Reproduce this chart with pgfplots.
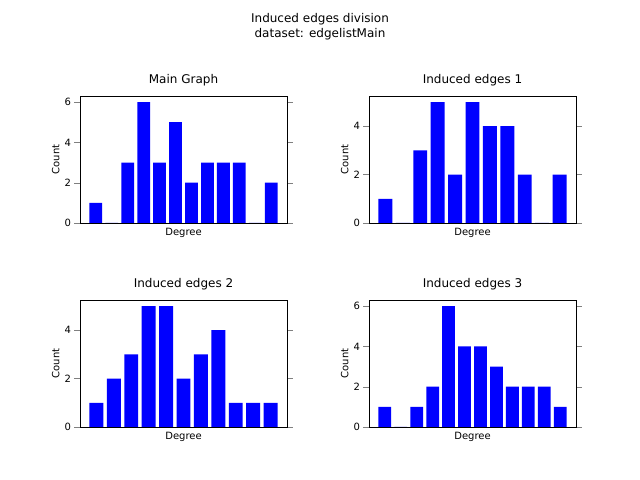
\documentclass[border=0pt]{standalone}
\usepackage{pgfplots}
\pgfplotsset{compat=1.18}
\usepackage{fontspec}
\setmainfont{DejaVu Sans}
\pgfplotsset{
  every axis/.append style={
    scale only axis, width=155.25bp, height=95.25bp,
    anchor=south west, ymin=0, xtick=\empty,
    ybar, bar width=0.8, bar shift=0pt,
    ylabel={Count}, xlabel={Degree},
    tick label style={font=\fontsize{7.5bp}{9bp}\selectfont},
    label style={font=\fontsize{7.5bp}{9bp}\selectfont},
    title style={font=\fontsize{9bp}{11bp}\selectfont, yshift=-2bp},
    /pgf/number format/assume math mode=true,
    xlabel style={yshift=4bp}, ylabel style={yshift=-3bp},
    tick align=outside, ytick={0,2,4,6}, yticklabel style={xshift=1bp},
  },
}
\begin{document}
\begin{tikzpicture}
\path (0,0) rectangle (480bp,360bp);
\node[font=\fontsize{9bp}{11bp}\selectfont, align=center] at (240bp,340bp) {Induced edges division\\ dataset: edgelistMain};
\begin{axis}[at={(60bp,192.75bp)}, title={Main Graph}, xmin=-0.99, xmax=11.99, ymax=6.3]
\addplot[fill=blue, draw=none] coordinates {(0,1)(1,0)(2,3)(3,6)(4,3)(5,5)(6,2)(7,3)(8,3)(9,3)(10,0)(11,2)};
\end{axis}
\begin{axis}[at={(276.75bp,192.75bp)}, title={Induced edges 1}, xmin=-0.94, xmax=10.94, ymax=5.25]
\addplot[fill=blue, draw=none] coordinates {(0,1)(1,0)(2,3)(3,5)(4,2)(5,5)(6,4)(7,4)(8,2)(9,0)(10,2)};
\end{axis}
\begin{axis}[at={(60bp,39.75bp)}, title={Induced edges 2}, xmin=-0.94, xmax=10.94, ymax=5.25]
\addplot[fill=blue, draw=none] coordinates {(0,1)(1,2)(2,3)(3,5)(4,5)(5,2)(6,3)(7,4)(8,1)(9,1)(10,1)};
\end{axis}
\begin{axis}[at={(276.75bp,39.75bp)}, title={Induced edges 3}, xmin=-0.99, xmax=11.99, ymax=6.3]
\addplot[fill=blue, draw=none] coordinates {(0,1)(1,0)(2,1)(3,2)(4,6)(5,4)(6,4)(7,3)(8,2)(9,2)(10,2)(11,1)};
\end{axis}
\end{tikzpicture}
\end{document}
